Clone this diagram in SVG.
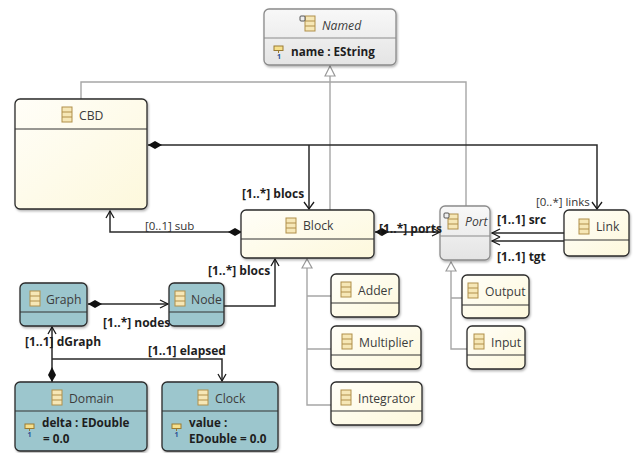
<svg xmlns="http://www.w3.org/2000/svg" xmlns:xlink="http://www.w3.org/1999/xlink" width="633" height="453" viewBox="0 0 633 453">
<style>
text{font-family:"Open Sans","Noto Sans","Liberation Sans",sans-serif;font-size:12px;fill:#3a3a3a}
.t{font-size:12.2px;fill:#3c3c3c}
.b{font-weight:700;fill:#1e1e1e;font-size:12px}
.a{font-weight:700;fill:#1e1e1e;font-size:11.7px}
.n{font-size:7px;font-weight:700;fill:#2a4f96;text-anchor:middle}
.i{font-style:italic}
.l{font-size:11.5px;fill:#333}
.box{stroke:#2a2a2a;stroke-width:1.3;filter:url(#sh)}
.y{fill:url(#yg)}.g{fill:url(#gg);stroke:#8a8a8a}.c{fill:#9cc6cd}
.d{stroke:#333;stroke-width:1.2;fill:none}.dg{stroke:#8c8c8c}
.inh{stroke:#a6a6a6;stroke-width:1.4;fill:none}
.asc{stroke:#2a2a2a;stroke-width:1.5;fill:none}
.arr{stroke:#1a1a1a;stroke-width:1.3;fill:none}
</style>
<defs>
<linearGradient id="yg" x1="0" y1="0" x2="1" y2="1"><stop offset="0" stop-color="#fffef8"/><stop offset="1" stop-color="#fdf8dc"/></linearGradient>
<linearGradient id="gg" x1="0" y1="0" x2="0" y2="1"><stop offset="0" stop-color="#f8f8f8"/><stop offset="1" stop-color="#e4e4e4"/></linearGradient>
<filter id="sh" x="-10%" y="-10%" width="125%" height="125%"><feDropShadow dx="1" dy="1.5" stdDeviation="1" flood-color="#000" flood-opacity="0.3"/></filter>
<g id="ic"><rect x="0" y="0" width="10" height="15" fill="#f6e7b6" stroke="#b08f4a" stroke-width="1"/><path d="M0 5H10M0 10H10" stroke="#b08f4a" stroke-width="1"/></g>
<g id="ab"><rect x="0" y="0" width="5" height="5" rx="1" fill="#eee" stroke="#444" stroke-width="0.9"/></g>
<g id="at"><rect x="0" y="0" width="9" height="4.5" fill="#f6e08c" stroke="#9a7b32" stroke-width="1"/><path d="M4.500 4.500V7" stroke="#9a7b32"/></g>
<path id="dia" d="M0 0L7 -4L14 0L7 4Z" fill="#111"/>
</defs>

<g id="connectors">
<path class="inh" d="M81 99V82H466V206M330 65V210"/>
<path d="M325 76L330 66L335 76Z" fill="#fff" stroke="#999" stroke-width="1.2"/>
<path class="inh" d="M307 268V405H331M307 296H331M307 349H331"/>
<path d="M302 268L307 259L312 268Z" fill="#fff" stroke="#999" stroke-width="1.2"/>
<path class="inh" d="M451 270V349H467M451 298H462"/>
<path d="M446 271L451 262L456 271Z" fill="#fff" stroke="#999" stroke-width="1.2"/>

<path class="asc" d="M148 145H597V209M309 145V209"/>
<use xlink:href="#dia" x="148" y="145"/>
<path class="arr" d="M304 202L309 209L314 202M592 202L597 209L602 202"/>
<path class="asc" d="M110 211V232H241"/>
<path class="arr" d="M106 218L110 211L114 218"/>
<use xlink:href="#dia" x="228" y="232"/>
<path class="asc" d="M224 306H275V259"/>
<path class="arr" d="M271 266L275 259L279 266"/>
<path class="asc" d="M375 232H440"/>
<use xlink:href="#dia" x="375" y="232"/>
<path class="arr" d="M432 228L440 232L432 236"/>
<path class="asc" d="M564 233H492M564 241H492"/>
<path class="arr" d="M500 229L492 233L500 237M500 237L492 241L500 245"/>
<path class="asc" d="M88 304H168"/>
<use xlink:href="#dia" x="88" y="304"/>
<path class="arr" d="M160 300L168 304L160 308"/>
<path class="asc" d="M52 327V382M52 359H222V381"/>
<path class="arr" d="M48 334L52 327L56 334M218 374L222 381L226 374"/>
<path d="M52 367L56 375L52 382L48 375Z" fill="#111"/>
</g>

<g id="Named"><rect class="box g" x="264" y="9" width="132" height="56" rx="5"/><path class="d dg" d="M264 38H396"/>
<use xlink:href="#ic" x="305" y="16"/><use xlink:href="#ab" x="300" y="16"/>
<text class="t i" x="322" y="30">Named</text>
<use xlink:href="#at" x="274" y="46"/><text class="n" x="279" y="59">1</text>
<text class="a" x="291" y="56">name : EString</text></g>

<g id="CBD"><rect class="box y" x="15" y="99" width="132" height="110" rx="5"/><path class="d" d="M15 129H147"/>
<use xlink:href="#ic" x="62" y="107"/><text class="t" x="79" y="120">CBD</text></g>

<g id="Block"><rect class="box y" x="241" y="210" width="133" height="48" rx="5"/><path class="d" d="M241 239H374"/>
<use xlink:href="#ic" x="286" y="218"/><text class="t" x="303" y="230">Block</text></g>

<g id="Port"><rect class="box g" x="440" y="206" width="50" height="54" rx="5"/><path class="d dg" d="M440 236H490"/>
<use xlink:href="#ic" x="448" y="214"/><use xlink:href="#ab" x="444" y="213"/>
<text class="t i" x="465" y="226">Port</text></g>

<g id="Link"><rect class="box y" x="564" y="210" width="65" height="46" rx="5"/><path class="d" d="M564 240H629"/>
<use xlink:href="#ic" x="579" y="219"/><text class="t" x="596" y="231">Link</text></g>

<g id="Output"><rect class="box y" x="462" y="275" width="67" height="43" rx="5"/><path class="d" d="M462 305H529"/>
<use xlink:href="#ic" x="468" y="283"/><text class="t" x="485" y="296">Output</text></g>

<g id="Input"><rect class="box y" x="467" y="326" width="58" height="43" rx="5"/><path class="d" d="M467 355H525"/>
<use xlink:href="#ic" x="474" y="334"/><text class="t" x="491" y="347">Input</text></g>

<g id="Adder"><rect class="box y" x="331" y="274" width="68" height="43" rx="5"/><path class="d" d="M331 303H399"/>
<use xlink:href="#ic" x="341" y="282"/><text class="t" x="358" y="295">Adder</text></g>

<g id="Multiplier"><rect class="box y" x="331" y="326" width="90" height="43" rx="5"/><path class="d" d="M331 355H421"/>
<use xlink:href="#ic" x="342" y="334"/><text class="t" x="359" y="347">Multiplier</text></g>

<g id="Integrator"><rect class="box y" x="331" y="382" width="91" height="43" rx="5"/><path class="d" d="M331 411H422"/>
<use xlink:href="#ic" x="341" y="390"/><text class="t" x="358" y="403">Integrator</text></g>

<g id="Graph"><rect class="box c" x="20" y="283" width="67" height="43" rx="5"/><path class="d" d="M20 312H87"/>
<use xlink:href="#ic" x="30" y="291"/><text class="t" x="46" y="304">Graph</text></g>

<g id="Node"><rect class="box c" x="169" y="283" width="55" height="43" rx="5"/><path class="d" d="M169 312H224"/>
<use xlink:href="#ic" x="175" y="291"/><text class="t" x="191" y="304">Node</text></g>

<g id="Domain"><rect class="box c" x="15" y="382" width="132" height="69" rx="5"/><path class="d" d="M15 411H147"/>
<use xlink:href="#ic" x="52" y="390"/><text class="t" x="69" y="403">Domain</text>
<use xlink:href="#at" x="25" y="424"/><text class="n" x="29.500" y="437">1</text>
<text class="a" x="42" y="426.500">delta : EDouble</text><text class="a" x="43" y="442.500">= 0.0</text></g>

<g id="Clock"><rect class="box c" x="162" y="382" width="116" height="69" rx="5"/><path class="d" d="M162 411H278"/>
<use xlink:href="#ic" x="198" y="390"/><text class="t" x="215" y="403">Clock</text>
<use xlink:href="#at" x="172" y="424"/><text class="n" x="176.500" y="437">1</text>
<text class="a" x="189" y="426.500">value :</text><text class="a" x="189" y="442.500">EDouble = 0.0</text></g>

<g id="labels">
<text class="b" x="242" y="198">[1..*] blocs</text>
<text class="l" x="145" y="230">[0..1] sub</text>
<text class="b" x="208" y="275">[1..*] blocs</text>
<text class="b" x="379" y="233">[1..*] ports</text>
<text class="l" x="536" y="206">[0..*] links</text>
<text class="b" x="497" y="224">[1..1] src</text>
<text class="b" x="497" y="261">[1..1] tgt</text>
<text class="b" x="103" y="327">[1..*] nodes</text>
<text class="b" x="25" y="346">[1..1] dGraph</text>
<text class="b" x="148" y="355">[1..1] elapsed</text>
</g>
</svg>
